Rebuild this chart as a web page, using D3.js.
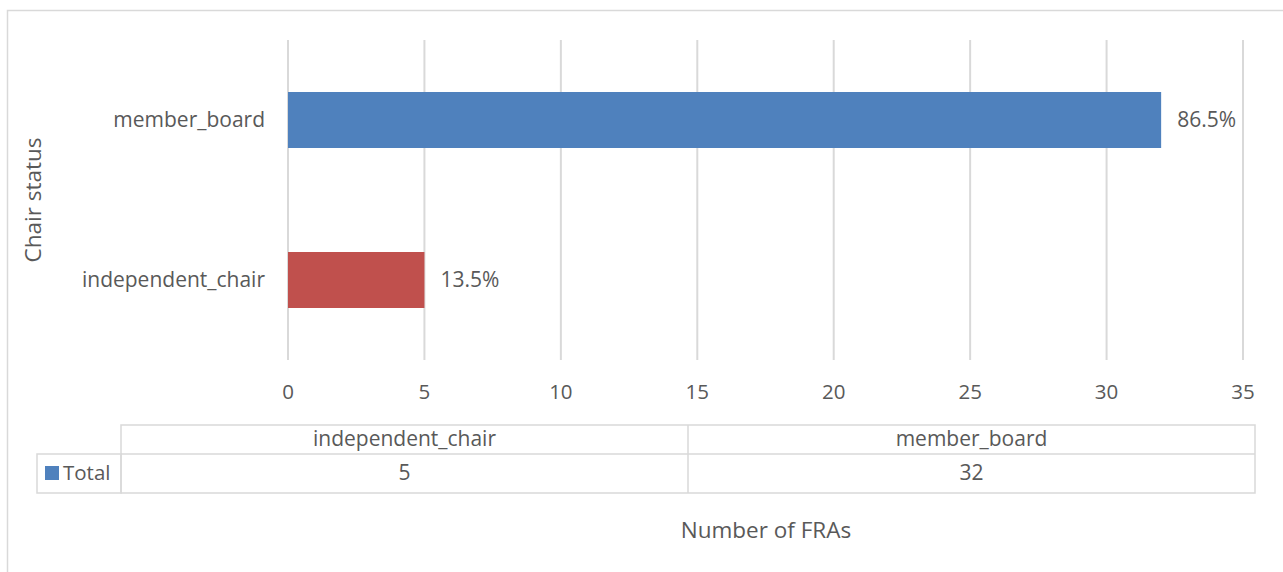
<!DOCTYPE html>
<html>
<head>
<meta charset="utf-8">
<script src="https://cdn.jsdelivr.net/npm/d3@7"></script>
<style>
  body { margin: 0; background: #fff; }
  svg text { font-family: "Open Sans", sans-serif; fill: #595959; }
</style>
</head>
<body>
<svg id="chart" width="1283" height="572"></svg>
<script>
// data
const categories = ["member_board", "independent_chair"];
const values = [32, 5];
const tableCategories = ["independent_chair", "member_board"];
const tableValues = [5, 32];
const barColors = ["#4F81BD", "#C0504D"];
const xTicks = [0, 5, 10, 15, 20, 25, 30, 35];

const svg = d3.select("#chart");
const total = d3.sum(values);
const fs = 21;

// outer frame
svg.append("rect")
    .attr("x", 7.5).attr("y", 10.5)
    .attr("width", 1290).attr("height", 600)
    .attr("fill", "none").attr("stroke", "#d9d9d9").attr("stroke-width", 1.5);

const x = d3.scaleLinear().domain([0, 35]).range([288, 1243]);
const y = d3.scaleBand().domain(categories).range([40, 360]).paddingInner(0.65).paddingOuter(0.325);

// gridlines
svg.append("g").selectAll("line").data(xTicks).join("line")
    .attr("x1", d => x(d)).attr("x2", d => x(d))
    .attr("y1", 40).attr("y2", 360)
    .attr("stroke", "#d9d9d9").attr("stroke-width", 2);

// bars
svg.append("g").selectAll("rect").data(categories).join("rect")
    .attr("x", x(0))
    .attr("y", d => y(d))
    .attr("width", (d, i) => x(values[i]) - x(0))
    .attr("height", y.bandwidth())
    .attr("fill", (d, i) => barColors[i]);

// data labels
svg.append("g").selectAll("text").data(categories).join("text")
    .attr("x", (d, i) => x(values[i]) + 16)
    .attr("y", d => y(d) + y.bandwidth() / 2)
    .attr("dy", "0.35em")
    .attr("font-size", fs)
    .text((d, i) => (values[i] / total * 100).toFixed(1) + "%");

// category labels
svg.append("g").selectAll("text").data(categories).join("text")
    .attr("x", 265)
    .attr("y", d => y(d) + y.bandwidth() / 2)
    .attr("dy", "0.35em")
    .attr("text-anchor", "end")
    .attr("font-size", fs)
    .text(d => d);

// x tick labels
svg.append("g").selectAll("text").data(xTicks).join("text")
    .attr("x", d => x(d))
    .attr("y", 392)
    .attr("dy", "0.35em")
    .attr("text-anchor", "middle")
    .attr("font-size", 20.5)
    .text(d => d);

// y axis title
svg.append("text")
    .attr("transform", "translate(33,200) rotate(-90)")
    .attr("dy", "0.35em")
    .attr("text-anchor", "middle")
    .attr("font-size", 22.5)
    .text("Chair status");

// data table
const col = d3.scaleBand().domain(tableCategories).range([121, 1255]);
const tbl = svg.append("g").attr("stroke", "#d9d9d9").attr("stroke-width", 1.5).attr("fill", "none");
tbl.append("rect").attr("x", 121).attr("y", 425).attr("width", 1134).attr("height", 68);
tbl.append("rect").attr("x", 37).attr("y", 454).attr("width", 84).attr("height", 39);
tbl.append("line").attr("x1", 121).attr("x2", 1255).attr("y1", 454).attr("y2", 454);
tbl.selectAll("line.c").data(tableCategories.slice(1)).join("line")
    .attr("class", "c")
    .attr("x1", d => col(d)).attr("x2", d => col(d))
    .attr("y1", 425).attr("y2", 493);

svg.append("g").selectAll("text").data(tableCategories).join("text")
    .attr("x", d => col(d) + col.bandwidth() / 2)
    .attr("y", 439)
    .attr("dy", "0.35em")
    .attr("text-anchor", "middle")
    .attr("font-size", fs)
    .text(d => d);

svg.append("g").selectAll("text").data(tableValues).join("text")
    .attr("x", (d, i) => col(tableCategories[i]) + col.bandwidth() / 2)
    .attr("y", 473)
    .attr("dy", "0.35em")
    .attr("text-anchor", "middle")
    .attr("font-size", fs)
    .text(d => d);

// legend key in table
svg.append("rect").attr("x", 45).attr("y", 466).attr("width", 14).attr("height", 14).attr("fill", barColors[0]);
svg.append("text").attr("x", 63).attr("y", 473).attr("dy", "0.35em").attr("font-size", 20.5).text("Total");

// x axis title
svg.append("text")
    .attr("x", 766).attr("y", 530)
    .attr("dy", "0.35em")
    .attr("text-anchor", "middle")
    .attr("font-size", 22.5)
    .text("Number of FRAs");
</script>
</body>
</html>
